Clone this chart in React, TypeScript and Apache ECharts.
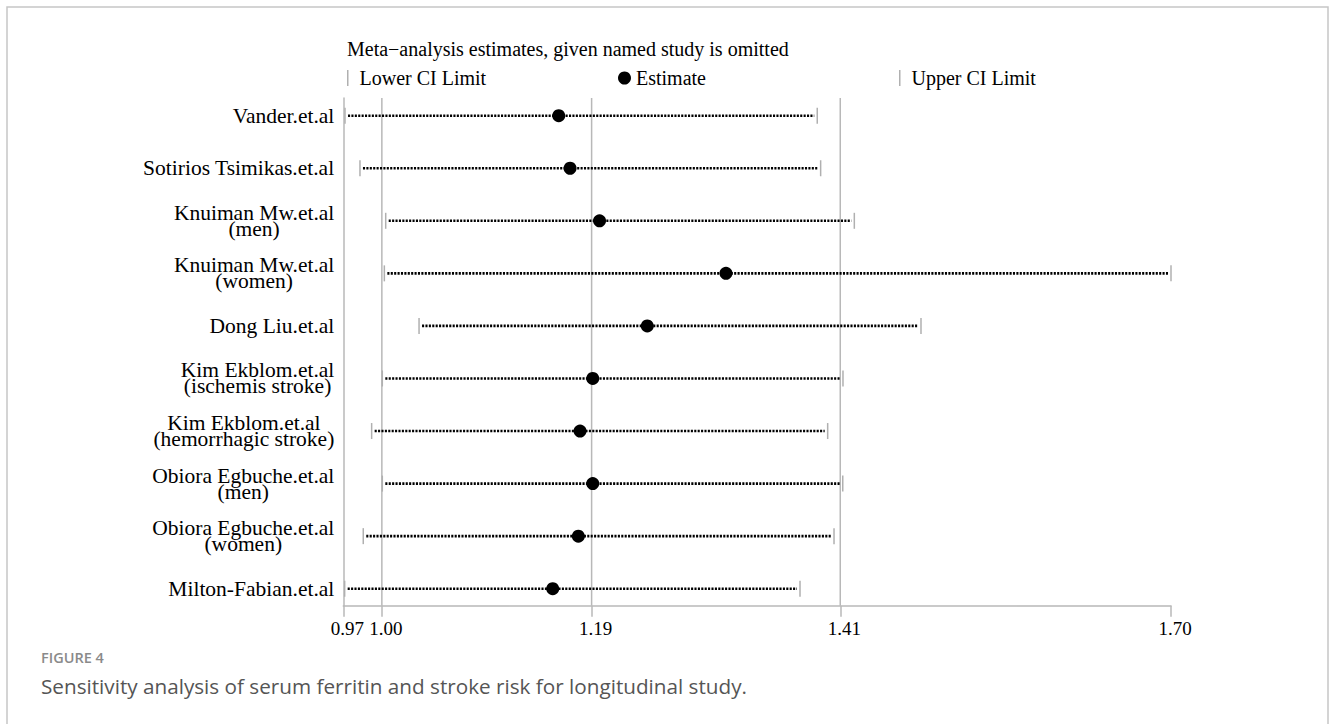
import React, { useEffect, useRef } from "react";
import * as echarts from "echarts";

const studies = [
  "Vander.et.al",
  "Sotirios Tsimikas.et.al",
  "Knuiman Mw.et.al\n(men)",
  "Knuiman Mw.et.al\n(women)",
  "Dong Liu.et.al",
  "Kim Ekblom.et.al\n(ischemis stroke)",
  "Kim Ekblom.et.al\n(hemorrhagic stroke)",
  "Obiora Egbuche.et.al\n(men)",
  "Obiora Egbuche.et.al\n(women)",
  "Milton-Fabian.et.al",
];
const lowerCI = [0.9715, 0.9847, 1.0074, 1.0062, 1.0368, 1.0044, 0.995, 1.0044, 0.9876, 0.9712];
const estimate = [1.16, 1.17, 1.196, 1.3075, 1.2381, 1.19, 1.1788, 1.19, 1.1773, 1.1547];
const upperCI = [1.388, 1.391, 1.4207, 1.7, 1.4795, 1.4107, 1.3972, 1.4105, 1.4028, 1.3728];
const xTicks = [0.97, 1.004, 1.189, 1.4083, 1.7];
const refLines = [1.004, 1.189, 1.4083];
const titleText = "Meta\u2212analysis estimates, given named study is omitted";
const figureLabel = "FIGURE 4";
const captionText = "Sensitivity analysis of serum ferritin and stroke risk for longitudinal study.";

const SERIF = "'Liberation Serif', 'Times New Roman', serif";
const GRAY = "#b8b8b8";

export default function App() {
  const ref = useRef<HTMLDivElement>(null);
  useEffect(() => {
    if (!ref.current) return;
    const chart = echarts.init(ref.current, undefined, { renderer: "svg" });
    const rowIdx = studies.map((_, i) => i + 1);
    const ciData = studies.map((_, i) => [lowerCI[i], estimate[i], upperCI[i], i + 1]);
    const legendText = { fontFamily: SERIF, fontSize: 20, color: "#000" };
    const option: any = {
      animation: false,
      backgroundColor: "#fff",
      title: {
        text: titleText,
        left: 347,
        top: 39,
        padding: 0,
        textStyle: { fontFamily: SERIF, fontSize: 20, fontWeight: "normal", color: "#000" },
      },
      legend: [
        {
          data: ["Lower CI Limit"],
          left: 347,
          top: 68,
          padding: 0,
          itemWidth: 1.5,
          itemHeight: 16,
          selectedMode: false,
          textStyle: { ...legendText, padding: [0, 0, 0, 6] },
        },
        {
          data: ["Estimate"],
          left: 618,
          top: 68,
          padding: 0,
          itemWidth: 13,
          itemHeight: 13,
          selectedMode: false,
          textStyle: legendText,
        },
        {
          data: ["Upper CI Limit"],
          left: 899,
          top: 68,
          padding: 0,
          itemWidth: 1.5,
          itemHeight: 16,
          selectedMode: false,
          textStyle: { ...legendText, padding: [0, 0, 0, 6] },
        },
      ],
      grid: { left: 343.3, right: 159, top: 98, bottom: 118.3, containLabel: false },
      xAxis: {
        type: "value",
        min: 0.97,
        max: 1.7,
        axisLine: { show: true, lineStyle: { color: GRAY, width: 1.5 } },
        axisTick: { show: true, customValues: xTicks, length: 11, lineStyle: { color: GRAY, width: 1.5 } },
        axisLabel: {
          customValues: xTicks,
          formatter: (v: number) => v.toFixed(2),
          fontFamily: SERIF,
          fontSize: 19,
          color: "#000",
          margin: 13,
          padding: [0, 0, 0, 8],
        },
        splitLine: { show: false },
      },
      yAxis: {
        type: "value",
        inverse: true,
        min: 0.6633,
        max: 10.3234,
        axisLine: { show: true, lineStyle: { color: GRAY, width: 1.5 } },
        axisTick: { show: false },
        splitLine: { show: false },
        axisLabel: {
          customValues: rowIdx,
          margin: 9,
          align: "right",
          formatter: (v: number) =>
            studies[Math.round(v) - 1]
              .split("\n")
              .map((s) => `{c|${s}}`)
              .join("\n"),
          rich: {
            c: { align: "center", fontFamily: SERIF, fontSize: 21.5, lineHeight: 16, color: "#000" },
          },
        },
      },
      series: [
        {
          type: "custom",
          name: "refLines",
          silent: true,
          data: refLines.map((v) => [v]),
          encode: { x: 0 },
          renderItem: (params: any, api: any) => {
            const cs = params.coordSys;
            const px = api.coord([api.value(0), 1])[0];
            return {
              type: "line",
              shape: { x1: px, y1: cs.y, x2: px, y2: cs.y + cs.height },
              style: { stroke: GRAY, lineWidth: 1.5, fill: null },
            };
          },
          z: 1,
        },
        {
          type: "custom",
          name: "ci",
          silent: true,
          data: ciData,
          encode: { x: [0, 2], y: 3 },
          renderItem: (params: any, api: any) => {
            const p0 = api.coord([api.value(0), api.value(3)]);
            const p1 = api.coord([api.value(2), api.value(3)]);
            return {
              type: "line",
              shape: { x1: p0[0] + 3, y1: p0[1], x2: p1[0] - 3, y2: p1[1] },
              style: { stroke: "#000", lineWidth: 2.6, lineDash: [2.1, 1.3], fill: null },
            };
          },
          z: 3,
        },
        {
          type: "scatter",
          name: "Lower CI Limit",
          data: studies.map((_, i) => [lowerCI[i], i + 1]),
          symbol: "rect",
          symbolSize: [1.5, 16],
          itemStyle: { color: "#b0b0b0", opacity: 1 },
          z: 4,
        },
        {
          type: "scatter",
          name: "Upper CI Limit",
          data: studies.map((_, i) => [upperCI[i], i + 1]),
          symbol: "rect",
          symbolSize: [1.5, 16],
          itemStyle: { color: "#b0b0b0", opacity: 1 },
          z: 4,
        },
        {
          type: "scatter",
          name: "Estimate",
          data: studies.map((_, i) => [estimate[i], i + 1]),
          symbol: "circle",
          symbolSize: 13,
          itemStyle: { color: "#000", opacity: 1 },
          z: 5,
        },
      ],
      graphic: [
        {
          type: "rect",
          shape: { x: 7, y: 7, width: 1321, height: 740 },
          style: { fill: "none", stroke: "#c6c6c6", lineWidth: 1.5 },
          silent: true,
        },
        {
          type: "text",
          x: 41,
          y: 657,
          style: {
            text: figureLabel,
            fontFamily: "'Open Sans', sans-serif",
            fontSize: 14.5,
            fontWeight: 600,
            fill: "#8a8a8a",
            verticalAlign: "middle",
          },
        },
        {
          type: "text",
          x: 41,
          y: 686,
          style: {
            text: captionText,
            fontFamily: "'Open Sans', sans-serif",
            fontSize: 20.7,
            fill: "#555",
            verticalAlign: "middle",
          },
        },
      ],
    };
    chart.setOption(option);
    return () => chart.dispose();
  }, []);
  return (
    <div
      ref={ref}
      style={{ position: "fixed", left: 0, top: 0, width: 1330, height: 724, background: "#fff" }}
    />
  );
}
